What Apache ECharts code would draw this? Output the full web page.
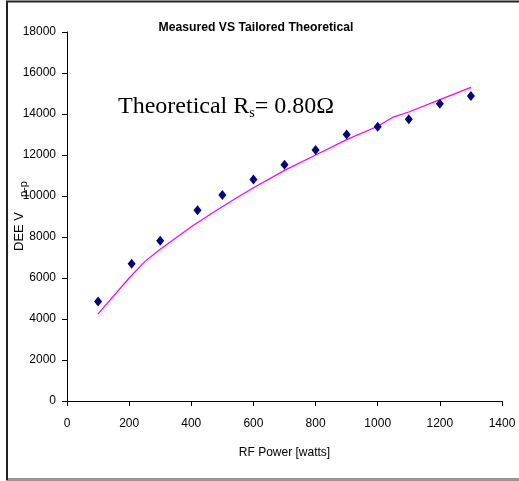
<!DOCTYPE html>
<html>
<head>
<meta charset="utf-8">
<script src="https://cdn.jsdelivr.net/npm/echarts@6/dist/echarts.min.js"></script>
<style>html,body{margin:0;padding:0;background:#fff;overflow:hidden;}#c{width:519px;height:481px;}</style>
</head>
<body>
<div id="c"></div>
<script>
// Measured data (RF power in watts, DEE Vp-p)
const measuredPower = [100, 208, 300, 420, 500, 600, 700, 800, 900, 1000, 1100, 1200, 1300];
const measuredVolts = [4850, 6700, 7820, 9300, 10050, 10800, 11530, 12250, 13000, 13380, 13750, 14500, 14880];
// Theoretical curve (Rs = 0.80 ohm)
const theoryPower = [100, 200, 250, 300, 400, 465, 550, 600, 700, 800, 900, 1000, 1050, 1100, 1200, 1300];
const theoryVolts = [4250, 6000, 6800, 7400, 8500, 9150, 9950, 10400, 11250, 12000, 12750, 13400, 13850, 14100, 14700, 15300];
// Axis ticks
const xTicks = [0, 200, 400, 600, 800, 1000, 1200, 1400];
const yTicks = [0, 2000, 4000, 6000, 8000, 10000, 12000, 14000, 16000, 18000];

const chart = echarts.init(document.getElementById('c'), null, {renderer: 'canvas'});
const axisFont = {fontFamily: 'Liberation Sans, Arial, sans-serif', fontSize: 12, color: '#000'};
chart.setOption({
  animation: false,
  backgroundColor: '#fff',
  title: {
    text: 'Measured VS Tailored Theoretical',
    left: 251, top: 17, textAlign: 'center',
    textStyle: {fontFamily: 'Liberation Sans, Arial, sans-serif', fontSize: 12.2, fontWeight: 'bold', color: '#000'}
  },
  grid: {left: 67, right: 17, top: 32, bottom: 80, containLabel: false},
  xAxis: {
    type: 'value', min: xTicks[0], max: xTicks[xTicks.length - 1], interval: 200,
    name: 'RF Power [watts]', nameLocation: 'middle', nameGap: 46,
    nameTextStyle: axisFont,
    axisLine: {show: true, onZero: false, lineStyle: {color: '#000', width: 1}},
    axisTick: {show: true, length: 5, inside: false, lineStyle: {color: '#000'}},
    axisLabel: Object.assign({margin: 17, formatter: v => String(v)}, axisFont),
    splitLine: {show: false}
  },
  yAxis: {
    type: 'value', min: yTicks[0], max: yTicks[yTicks.length - 1], interval: 2000,
    axisLine: {show: true, lineStyle: {color: '#000', width: 1}},
    axisTick: {show: true, length: 5, inside: false, lineStyle: {color: '#000'}},
    axisLabel: Object.assign({margin: 11, formatter: v => String(v)}, axisFont),
    splitLine: {show: false}
  },
  series: [
    {
      type: 'line', name: 'Theoretical',
      data: theoryPower.map((p, i) => [p, theoryVolts[i]]),
      showSymbol: false, symbol: 'none',
      lineStyle: {color: '#FF00FF', width: 1.2},
      z: 2
    },
    {
      type: 'scatter', name: 'Measured',
      data: measuredPower.map((p, i) => [p, measuredVolts[i]]),
      symbol: 'diamond', symbolSize: [8, 10],
      itemStyle: {color: '#000080', opacity: 1},
      z: 3
    }
  ],
  graphic: [
    {type: 'polyline', shape: {points: [[540, 1.5], [7, 1.5], [7, 479.5], [540, 479.5]]}, style: {fill: 'none', stroke: '#222', lineWidth: 2}, silent: true, z: 10},
    {type: 'line', shape: {x1: 8, y1: 479.5, x2: 540, y2: 479.5}, style: {stroke: '#999', lineWidth: 2}, silent: true, z: 11},
    {type: 'text', x: 118, y: 107, style: {
      text: 'Theoretical R{s|s}= 0.80Ω',
      rich: {s: {fontSize: 14, padding: [12, 0, 0, 0], fontFamily: 'Liberation Serif, Times New Roman, serif'}},
      font: '24px "Liberation Serif", "Times New Roman", serif', fill: '#000', textVerticalAlign: 'middle'
    }},
    {type: 'text', x: 13, y: 251, rotation: Math.PI / 2, style: {
      text: 'DEE V', font: '13px "Liberation Sans", Arial, sans-serif', fill: '#000', textVerticalAlign: 'top'
    }},
    {type: 'text', x: 18, y: 197, rotation: Math.PI / 2, style: {
      text: 'p-p', font: '11px "Liberation Sans", Arial, sans-serif', fill: '#000', textVerticalAlign: 'top'
    }}
  ]
});
</script>
</body>
</html>
